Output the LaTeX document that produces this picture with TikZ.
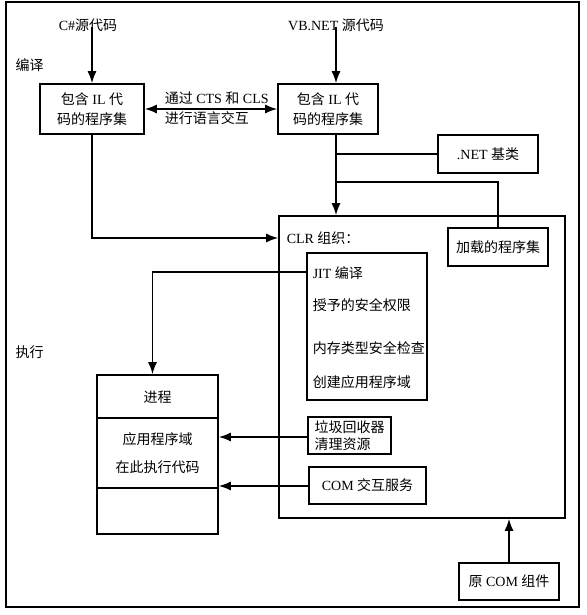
\documentclass[tikz,border=0pt]{standalone}
\usepackage{fontspec}
\setmainfont{Liberation Serif}
\newfontfamily\cjk{Noto Sans CJK SC}
\newcommand{\zh}[1]{{\cjk #1}}
\usetikzlibrary{positioning,calc,arrows.meta}

\begin{document}
\begin{tikzpicture}[
  x=1pt, y=-1pt,
  font=\fontsize{14}{20}\selectfont,
  line width=1.5pt,
  box/.style={draw, line width=1.6pt, inner sep=2pt, align=center},
  plain/.style={inner sep=1pt},
  arr/.style={-{Latex[length=12pt,width=9pt]}},
  arrs/.style={{Latex[length=12pt,width=9pt]}-{Latex[length=12pt,width=9pt]}},
]
\useasboundingbox (0,0) rectangle (586,615);
\draw[line width=1.6pt] (6,2) rectangle (579,607);

% compile stage
\node[plain] (csrc)  at (88,25)  {C\#\zh{源代码}};
\node[plain] (vbsrc) at (336,25) {VB.NET \zh{源代码}};
\node[plain, anchor=west] (tcomp) at (14,65) {\zh{编译}};

\node[box, minimum width=104pt, minimum height=50pt] (asm1) at (92,109)  {\zh{包含} IL \zh{代}\\\zh{码的程序集}};
\node[box, minimum width=100pt, minimum height=50pt] (asm2) at (328,109) {\zh{包含} IL \zh{代}\\\zh{码的程序集}};
\node[plain, anchor=west, align=left] (cts) at (163,108) {\zh{通过} CTS \zh{和} CLS\\\zh{进行语言交互}};

\draw[arr] ([yshift=6pt]asm1.north |- csrc.south) -- (asm1.north);
\draw[arr] ([yshift=6pt]vbsrc.south) -- (vbsrc.south |- asm2.north);
\draw[arrs] (asm1.east) -- (asm2.west);

\node[box, minimum width=100pt, minimum height=38pt] (netlib) at (488,154) {.NET \zh{基类}};

% CLR
\node[box, minimum width=286pt, minimum height=302pt] (clr) at (422,367) {};
\node[plain, anchor=west] (clrtitle) at (285,238) {CLR \zh{组织：}};
\node[box, minimum width=100pt, minimum height=38pt] (loaded) at (498,247) {\zh{加载的程序集}};

\coordinate (j1) at (337,182);
\draw (vbsrc.south |- asm2.south) -- (vbsrc.south |- netlib.west) -- (netlib.west);
\draw[arr] (vbsrc.south |- netlib.west) -- (vbsrc.south |- clr.north);
\draw (j1) -| (loaded.north);
\draw[arr] (asm1.south) |- (clr.west |- clrtitle);

\node[box, minimum width=120pt, minimum height=147pt] (jit) at (367,326.5) {};
\foreach \txt/\yy [count=\i] in {JIT \zh{编译}/273, \zh{授予的安全权限}/305, \zh{内存类型安全检查}/348, \zh{创建应用程序域}/382}
  \node[plain, anchor=west] (jit\i) at (311,\yy) {\txt};

\node[box, minimum width=83pt, minimum height=37pt, align=left, font=\fontsize{14}{16.5}\selectfont] (gc) at (349.5,435.5) {\zh{垃圾回收器}\\\zh{清理资源}};
\node[box, minimum width=117pt, minimum height=37pt] (comsvc) at (367.5,485.5) {COM \zh{交互服务}};

% execute stage
\node[plain, anchor=west] (texec) at (14,352) {\zh{执行}};
\node[box, minimum width=121pt, minimum height=159pt] (proc) at (157.5,454.5) {};
\draw[line width=1.6pt] (proc.west |- 0,418) -- (proc.east |- 0,418);
\draw[line width=1.6pt] (proc.west |- 0,488) -- (proc.east |- 0,488);
\node[plain] (ptitle) at (157.5,397) {\zh{进程}};
\node[plain] (pdom)   at (157.5,439) {\zh{应用程序域}};
\node[plain] (pexe)   at (157.5,467) {\zh{在此执行代码}};

\draw[arr] (jit.west |- 0,272) -| ([xshift=-5pt]proc.north);
\draw[arr] (gc.west |- 0,437) -- (proc.east |- 0,437);
\draw[arr] (comsvc.west |- 0,486) -- (proc.east |- 0,486);

\node[box, minimum width=100pt, minimum height=37pt] (comold) at (509,581.5) {\zh{原} COM \zh{组件}};
\draw[arr] (comold.north) -- (comold.north |- clr.south);
\end{tikzpicture}
\end{document}
